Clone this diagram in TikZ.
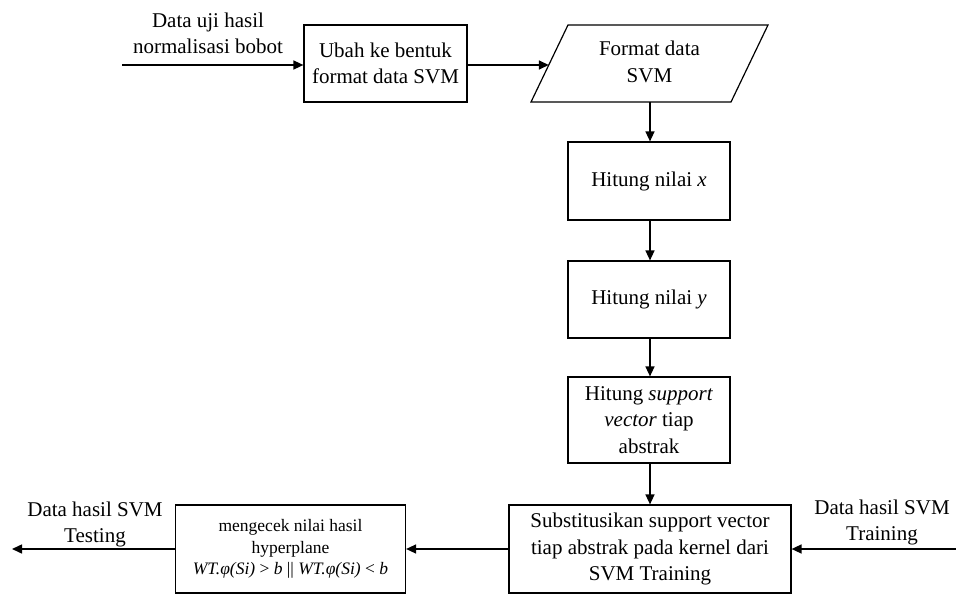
\documentclass[tikz,border=0pt]{standalone}
\usepackage{fontspec}
\setmainfont{Liberation Serif}
\usetikzlibrary{arrows.meta,calc}
\begin{document}
\begin{tikzpicture}[x=1pt,y=-1pt,
  box/.style={draw,line width=1.2pt,inner sep=0pt,align=center,font=\fontsize{21}{26.5}\selectfont},
  lbl/.style={inner sep=0pt,align=center,font=\fontsize{21}{26}\selectfont},
  arr/.style={line width=1.5pt,-{Triangle[length=10pt,width=9pt]}}]
\useasboundingbox (0,0) rectangle (956,594);
\node[box,minimum width=163pt,minimum height=77pt] (ubah) at (385.5,63.5) {Ubah ke bentuk\\format data SVM};
\coordinate (p1) at (568,25);
\coordinate (p2) at (768,25);
\coordinate (p3) at (731,102);
\coordinate (p4) at (531,102);
\draw[line width=1.2pt] (p1) -- (p2) -- (p3) -- (p4) -- cycle;
\node[lbl,font=\fontsize{21}{27}\selectfont] (fmt) at (649.5,62) {Format data\\SVM};
\coordinate (fmtin) at (548.8,65);
\coordinate (fmtout) at (650,102);
\node[box,minimum width=162pt,minimum height=78pt] (hx) at (649,181) {Hitung nilai \textit{x}};
\node[box,minimum width=162pt,minimum height=77pt] (hy) at (649,299.5) {Hitung nilai \textit{y}};
\node[box,minimum width=162pt,minimum height=86pt] (hs) at (649,420) {Hitung \textit{support}\\\textit{vector} tiap\\abstrak};
\node[box,minimum width=282pt,minimum height=88pt] (sub) at (650,549) {Substitusikan support vector\\tiap abstrak pada kernel dari\\SVM Training};
\node[box,minimum width=230pt,minimum height=88pt,font=\fontsize{17.5}{21.5}\selectfont] (cek) at (290.5,549) {mengecek nilai hasil\\hyperplane\\\textit{WT.φ(Si)} > \textit{b} || \textit{WT.φ(Si)} < \textit{b}};
\coordinate (inL) at (122,65);
\coordinate (inR) at (956,549);
\coordinate (outL) at (12,549);
\node[lbl] (l1) at (208,33) {Data uji hasil\\normalisasi bobot};
\node[lbl] (l2) at (882,522) {Data hasil SVM\\Training};
\node[lbl] (l3) at (95,524) {Data hasil SVM\\Testing};
\draw[arr] (inL) -- (inL -| ubah.west);
\draw[arr] (ubah.east |- fmtin) -- (fmtin);
\draw[arr] (fmtout) -- (fmtout |- hx.north);
\draw[arr] (hx.south -| fmtout) -- (fmtout |- hy.north);
\draw[arr] (hy.south -| fmtout) -- (fmtout |- hs.north);
\draw[arr] (hs.south -| fmtout) -- (fmtout |- sub.north);
\draw[arr] (inR) -- (sub.east);
\draw[arr] (sub.west) -- (cek.east);
\draw[arr] (cek.west) -- (outL);
\end{tikzpicture}
\end{document}
